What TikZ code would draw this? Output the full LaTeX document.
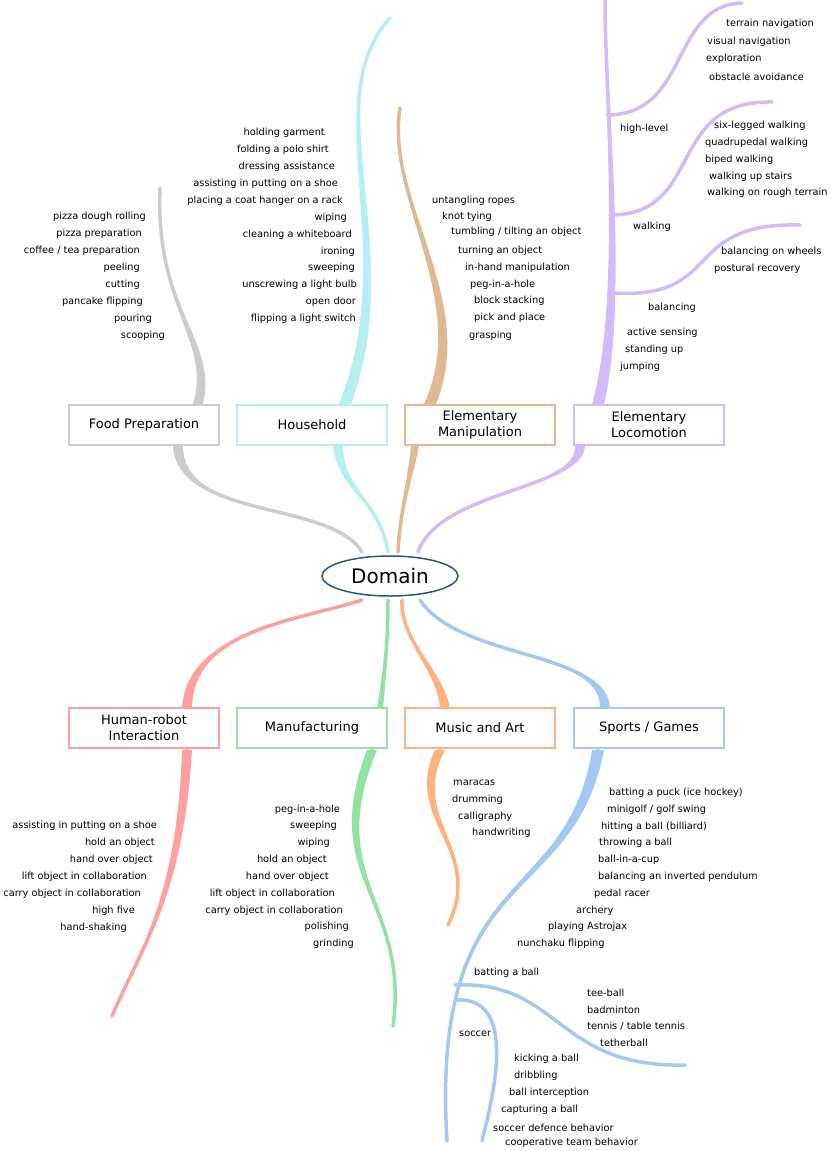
\documentclass[tikz,border=0pt]{standalone}
\usepackage{fontspec}
\setmainfont{DejaVu Sans}
\usetikzlibrary{calc,shapes.geometric}
\definecolor{foodc}{HTML}{CCCCCC}
\definecolor{housec}{HTML}{B5EFEF}
\definecolor{manipc}{HTML}{DEB993}
\definecolor{lococ}{HTML}{D2BBF9}
\definecolor{hric}{HTML}{FFA0A0}
\definecolor{manuc}{HTML}{92E2A2}
\definecolor{musicc}{HTML}{FFB27F}
\definecolor{sportc}{HTML}{A3C9F3}
\definecolor{domainc}{HTML}{1B5E78}
\tikzset{
  domainbox/.style={draw=#1,line width=1.5pt,fill=white,minimum width=150pt,minimum height=40pt,align=center,font=\fontsize{13}{16}\selectfont},
  leaf/.style={font=\fontsize{9.8}{11}\selectfont,inner sep=0pt},
  leafl/.style={leaf,anchor=west},
  leafr/.style={leaf,anchor=east}
}
% tapered branch: colour, wide end, control 1, control 2, tip, half width
\newcommand{\branch}[6]{%
  \draw[#1,line width=3.5pt,line cap=round] (#2) .. controls (#3) and (#4) .. (#5);
  \fill[#1] ($(#2)+(#6)$) .. controls ($(#3)+0.6*(#6)$) and ($(#4)+0.3*(#6)$) .. (#5)
    .. controls ($(#4)-0.3*(#6)$) and ($(#3)-0.6*(#6)$) .. ($(#2)-(#6)$) -- cycle;}
\begin{document}
\begin{tikzpicture}[x=1pt,y=-1pt]
	\useasboundingbox (0,0) rectangle (830,1151);

	%domain branches
	\branch{foodc}{178,446}{180,520}{330,500}{362,552}{5,0}
	\branch{housec}{338,446}{340,490}{380,500}{388,552}{5,0}
	\branch{manipc}{415,446}{410,480}{400,510}{398,552}{4,0}
	\branch{lococ}{580,446}{580,490}{440,490}{418,552}{5,0}
	\branch{hric}{187,708}{190,630}{300,620}{362,600}{5,0}
	\branch{manuc}{380,708}{385,670}{388,640}{388,600}{3,0}
	\branch{musicc}{445,708}{440,670}{400,640}{402,600}{5,0}
	\branch{sportc}{605,708}{605,650}{460,660}{420,600}{5,0}

	%upper branches
	\branch{foodc}{198,404}{215,340}{155,310}{160,188}{5,0}
	\branch{housec}{345,404}{405,250}{315,100}{390,18}{6,0}
	\branch{manipc}{430,404}{475,300}{385,200}{400,108}{6,0}
	\branch{lococ}{598,404}{625,300}{605,100}{605,0}{6,0}
	\branch{lococ}{607,115}{690,115}{670,5}{742,3}{0,1}
	\branch{lococ}{610,215}{705,215}{665,100}{772,102}{0,1}
	\branch{lococ}{612,293}{725,300}{680,222}{800,225}{0,1}

	%lower branches
	\branch{hric}{187,750}{180,900}{140,950}{112,1016}{5,0}
	\branch{manuc}{372,750}{320,880}{410,900}{393,1026}{5,0}
	\branch{musicc}{440,750}{405,820}{485,850}{448,925}{5,0}
	\branch{sportc}{598,750}{570,910}{430,860}{447,1141}{6,0}
	\branch{sportc}{455,985}{560,980}{555,1068}{685,1065}{0,1}
	\branch{sportc}{455,1000}{520,995}{492,1100}{482,1141}{0,1}

	%domain and boxes
	\node[draw=domainc,line width=1.5pt,fill=white,ellipse,minimum width=136pt,minimum height=40pt,font=\fontsize{20}{24}\selectfont] (domain) at (390,576) {Domain};
	\node[domainbox=foodc] (food) at (144,425) {Food Preparation};
	\node[domainbox=housec] (house) at (312,425) {Household};
	\node[domainbox=manipc] (manip) at (480,425) {Elementary\\Manipulation};
	\node[domainbox=lococ] (loco) at (649,425) {Elementary\\Locomotion};
	\node[domainbox=hric] (hri) at (144,728) {Human-robot\\Interaction};
	\node[domainbox=manuc] (manu) at (312,728) {Manufacturing};
	\node[domainbox=musicc] (music) at (480,728) {Music and Art};
	\node[domainbox=sportc] (sport) at (649,728) {Sports / Games};

	%food labels
	\node[leafr] (f1) at (146,217) {pizza dough rolling};
	\node[leafr] (f2) at (142,234) {pizza preparation};
	\node[leafr] (f3) at (140,251) {coffee / tea preparation};
	\node[leafr] (f4) at (140,268) {peeling};
	\node[leafr] (f5) at (140,285) {cutting};
	\node[leafr] (f6) at (143,302) {pancake flipping};
	\node[leafr] (f7) at (152,319) {pouring};
	\node[leafr] (f8) at (165,336) {scooping};

	%household labels
	\node[leafr] (h1) at (325,133) {holding garment};
	\node[leafr] (h2) at (329,150) {folding a polo shirt};
	\node[leafr] (h3) at (335,167) {dressing assistance};
	\node[leafr] (h4) at (338,184) {assisting in putting on a shoe};
	\node[leafr] (h5) at (343,201) {placing a coat hanger on a rack};
	\node[leafr] (h6) at (347,218) {wiping};
	\node[leafr] (h7) at (352,235) {cleaning a whiteboard};
	\node[leafr] (h8) at (355,252) {ironing};
	\node[leafr] (h9) at (355,268) {sweeping};
	\node[leafr] (h10) at (357,285) {unscrewing a light bulb};
	\node[leafr] (h11) at (356,302) {open door};
	\node[leafr] (h12) at (356,319) {flipping a light switch};

	%manipulation labels
	\node[leafl] (m1) at (432,201) {untangling ropes};
	\node[leafl] (m2) at (442,217) {knot tying};
	\node[leafl] (m3) at (451,232) {tumbling / tilting an object};
	\node[leafl] (m4) at (458,251) {turning an object};
	\node[leafl] (m5) at (465,268) {in-hand manipulation};
	\node[leafl] (m6) at (470,285) {peg-in-a-hole};
	\node[leafl] (m7) at (474,301) {block stacking};
	\node[leafl] (m8) at (474,318) {pick and place};
	\node[leafl] (m9) at (469,336) {grasping};

	%locomotion labels
	\node[leafl] (l1) at (726,24) {terrain navigation};
	\node[leafl] (l2) at (707,42) {visual navigation};
	\node[leafl] (l3) at (706,59) {exploration};
	\node[leafl] (l4) at (709,77) {obstacle avoidance};
	\node[leafl] (l5) at (620,129) {high-level};
	\node[leafl] (l6) at (714,126) {six-legged walking};
	\node[leafl] (l7) at (705,143) {quadrupedal walking};
	\node[leafl] (l8) at (705,160) {biped walking};
	\node[leafl] (l9) at (709,177) {walking up stairs};
	\node[leafl] (l10) at (707,193) {walking on rough terrain};
	\node[leafl] (l11) at (633,227) {walking};
	\node[leafl] (l12) at (721,252) {balancing on wheels};
	\node[leafl] (l13) at (714,269) {postural recovery};
	\node[leafl] (l14) at (648,308) {balancing};
	\node[leafl] (l15) at (627,333) {active sensing};
	\node[leafl] (l16) at (625,350) {standing up};
	\node[leafl] (l17) at (620,367) {jumping};

	%hri labels
	\node[leafr] (r1) at (157,826) {assisting in putting on a shoe};
	\node[leafr] (r2) at (155,843) {hold an object};
	\node[leafr] (r3) at (153,860) {hand over object};
	\node[leafr] (r4) at (147,877) {lift object in collaboration};
	\node[leafr] (r5) at (141,894) {carry object in collaboration};
	\node[leafr] (r6) at (135,911) {high five};
	\node[leafr] (r7) at (127,928) {hand-shaking};

	%manufacturing labels
	\node[leafr] (n1) at (340,810) {peg-in-a-hole};
	\node[leafr] (n2) at (337,826) {sweeping};
	\node[leafr] (n3) at (330,843) {wiping};
	\node[leafr] (n4) at (327,860) {hold an object};
	\node[leafr] (n5) at (329,877) {hand over object};
	\node[leafr] (n6) at (335,894) {lift object in collaboration};
	\node[leafr] (n7) at (343,911) {carry object in collaboration};
	\node[leafr] (n8) at (349,927) {polishing};
	\node[leafr] (n9) at (354,944) {grinding};

	%music labels
	\node[leafl] (a1) at (453,783) {maracas};
	\node[leafl] (a2) at (452,800) {drumming};
	\node[leafl] (a3) at (458,817) {calligraphy};
	\node[leafl] (a4) at (472,833) {handwriting};

	%sports labels
	\node[leafl] (s1) at (609,793) {batting a puck (ice hockey)};
	\node[leafl] (s2) at (607,810) {minigolf / golf swing};
	\node[leafl] (s3) at (601,827) {hitting a ball (billiard)};
	\node[leafl] (s4) at (599,843) {throwing a ball};
	\node[leafl] (s5) at (598,860) {ball-in-a-cup};
	\node[leafl] (s6) at (598,877) {balancing an inverted pendulum};
	\node[leafl] (s7) at (594,894) {pedal racer};
	\node[leafl] (s8) at (576,911) {archery};
	\node[leafl] (s9) at (548,927) {playing Astrojax};
	\node[leafl] (s10) at (517,944) {nunchaku flipping};
	\node[leafl] (s11) at (474,973) {batting a ball};
	\node[leafl] (s12) at (587,993) {tee-ball};
	\node[leafl] (s13) at (587,1010) {badminton};
	\node[leafl] (s14) at (587,1026) {tennis / table tennis};
	\node[leafl] (s15) at (600,1043) {tetherball};
	\node[leafl] (s16) at (459,1034) {soccer};
	\node[leafl] (s17) at (514,1059) {kicking a ball};
	\node[leafl] (s18) at (514,1076) {dribbling};
	\node[leafl] (s19) at (509,1093) {ball interception};
	\node[leafl] (s20) at (501,1110) {capturing a ball};
	\node[leafl] (s21) at (493,1128) {soccer defence behavior};
	\node[leafl] (s22) at (505,1143) {cooperative team behavior};
\end{tikzpicture}
\end{document}
